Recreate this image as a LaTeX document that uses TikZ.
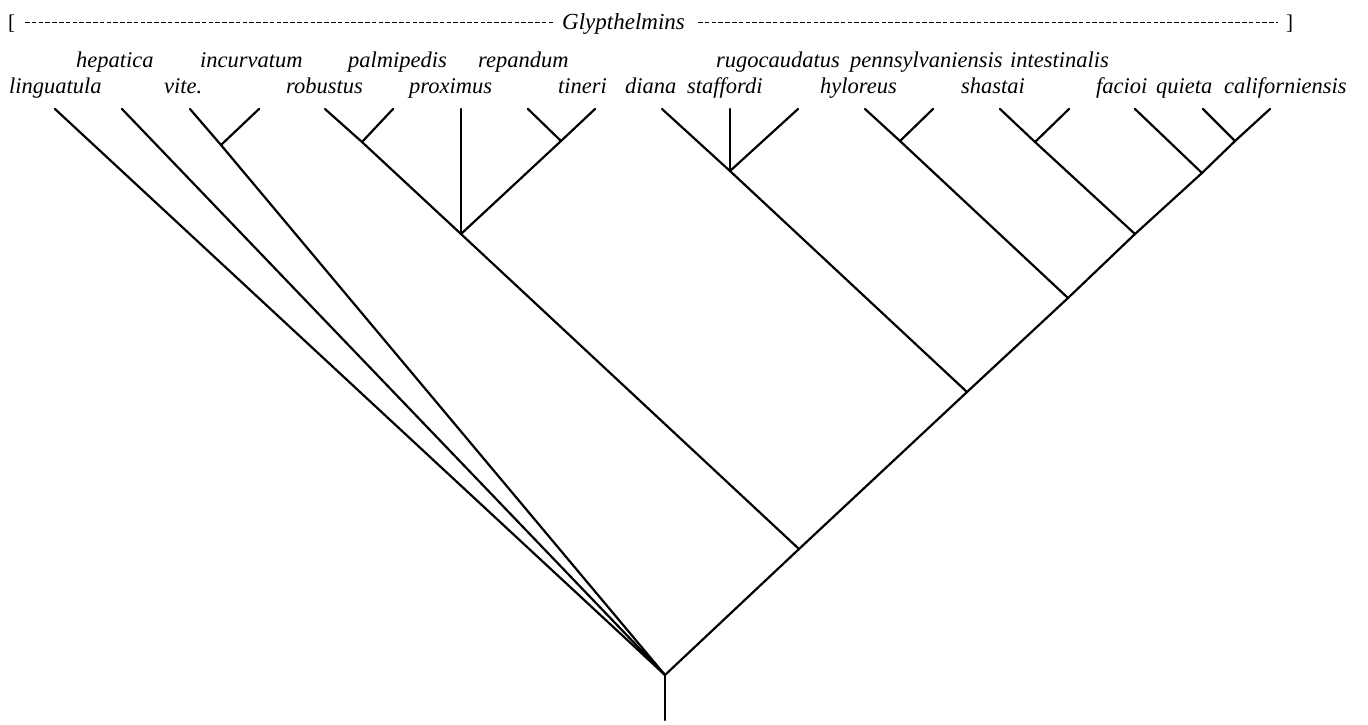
\documentclass[tikz,border=0pt]{standalone}
\usepackage{fontspec}
\setmainfont{Liberation Serif}
\begin{document}
\begin{tikzpicture}[x=1pt,y=-1pt,
  edge/.style={line width=2.2pt, line cap=round},
  taxon/.style={font=\fontsize{22.5}{24}\selectfont\itshape, anchor=base west, inner sep=0pt},
  title/.style={font=\fontsize{23}{26}\selectfont\itshape, anchor=base west, inner sep=0pt},
  brack/.style={font=\fontsize{21}{22}\selectfont, anchor=base west, inner sep=0pt},
  dashrule/.style={line width=1pt, dash pattern=on 4.5pt off 2.3pt}]
\useasboundingbox (0,0) rectangle (1368,724);

% ---- header ----
\node[brack] (lb) at (8,29) {[};
\node[title] (gl) at (562,29) {Glypthelmins};
\node[brack] (rb) at (1286,29) {]};
\coordinate (d1) at (25,22);
\coordinate (d2) at (554,22);
\coordinate (d3) at (698,22);
\coordinate (d4) at (1278,22);
\draw[dashrule] (d1) -- (d2);
\draw[dashrule] (d3) -- (d4);

% ---- labels, upper row ----
\node[taxon] (Lhep) at (76,67) {hepatica};
\node[taxon] (Linc) at (200,67) {incurvatum};
\node[taxon] (Lpal) at (348,67) {palmipedis};
\node[taxon] (Lrep) at (478,67) {repandum};
\node[taxon] (Lrug) at (716,67) {rugocaudatus};
\node[taxon] (Lpen) at (850,67) {pennsylvaniensis};
\node[taxon] (Lint) at (1010,67) {intestinalis};

% ---- labels, lower row ----
\node[taxon] (Llin) at (9,93) {linguatula};
\node[taxon] (Lvit) at (164,93) {vite.};
\node[taxon] (Lrob) at (286,93) {robustus};
\node[taxon] (Lpro) at (409,93) {proximus};
\node[taxon] (Ltin) at (558,93) {tineri};
\node[taxon] (Ldia) at (625,93) {diana};
\node[taxon] (Lsta) at (687,93) {staffordi};
\node[taxon] (Lhyl) at (820,93) {hyloreus};
\node[taxon] (Lsha) at (961,93) {shastai};
\node[taxon] (Lfac) at (1096,93) {facioi};
\node[taxon] (Lqui) at (1156,93) {quieta};
\node[taxon] (Lcal) at (1224,93) {californiensis};

% ---- tree points ----
\coordinate (root) at (665,675);
\coordinate (base) at (665,720);
\coordinate (tLin) at (55,109);
\coordinate (tHep) at (122,109);
\coordinate (tVit) at (190,109);
\coordinate (tInc) at (259,109);
\coordinate (nVit) at (221,145);
\coordinate (tRob) at (325,109);
\coordinate (tPal) at (393,109);
\coordinate (nRob) at (362,142);
\coordinate (tPro) at (461,109);
\coordinate (nPro) at (461,234);
\coordinate (tRep) at (528,109);
\coordinate (tTin) at (595,109);
\coordinate (nRep) at (561,141);
\coordinate (nL) at (799,549);
\coordinate (tDia) at (662,109);
\coordinate (tSta) at (730,109);
\coordinate (tRug) at (798,109);
\coordinate (nDia) at (730,171);
\coordinate (nR1) at (967,392);
\coordinate (tHyl) at (865,109);
\coordinate (tPen) at (933,109);
\coordinate (nHyl) at (900,141);
\coordinate (nR2) at (1068,298);
\coordinate (tSha) at (1000,109);
\coordinate (tInt) at (1069,109);
\coordinate (nSha) at (1035,142);
\coordinate (nR3) at (1135,234);
\coordinate (tFac) at (1135,109);
\coordinate (nR4) at (1202,173);
\coordinate (tQui) at (1203,109);
\coordinate (tCal) at (1270,109);
\coordinate (nQui) at (1235,141);

% ---- edges ----
\draw[edge] (root) -- (base);
\draw[edge] (tLin) -- (root);
\draw[edge] (tHep) -- (root);
\draw[edge] (tVit) -- (nVit);
\draw[edge] (tInc) -- (nVit);
\draw[edge] (nVit) -- (root);
\draw[edge] (tRob) -- (nRob);
\draw[edge] (tPal) -- (nRob);
\draw[edge] (nRob) -- (nPro);
\draw[edge] (tPro) -- (nPro);
\draw[edge] (tRep) -- (nRep);
\draw[edge] (tTin) -- (nRep);
\draw[edge] (nRep) -- (nPro);
\draw[edge] (nPro) -- (nL);
\draw[edge] (nL) -- (root);
\draw[edge] (tDia) -- (nDia);
\draw[edge] (tSta) -- (nDia);
\draw[edge] (tRug) -- (nDia);
\draw[edge] (nDia) -- (nR1);
\draw[edge] (nR1) -- (nL);
\draw[edge] (tHyl) -- (nHyl);
\draw[edge] (tPen) -- (nHyl);
\draw[edge] (nHyl) -- (nR2);
\draw[edge] (nR2) -- (nR1);
\draw[edge] (tSha) -- (nSha);
\draw[edge] (tInt) -- (nSha);
\draw[edge] (nSha) -- (nR3);
\draw[edge] (nR3) -- (nR2);
\draw[edge] (tFac) -- (nR4);
\draw[edge] (nR4) -- (nR3);
\draw[edge] (tQui) -- (nQui);
\draw[edge] (tCal) -- (nQui);
\draw[edge] (nQui) -- (nR4);
\end{tikzpicture}
\end{document}
